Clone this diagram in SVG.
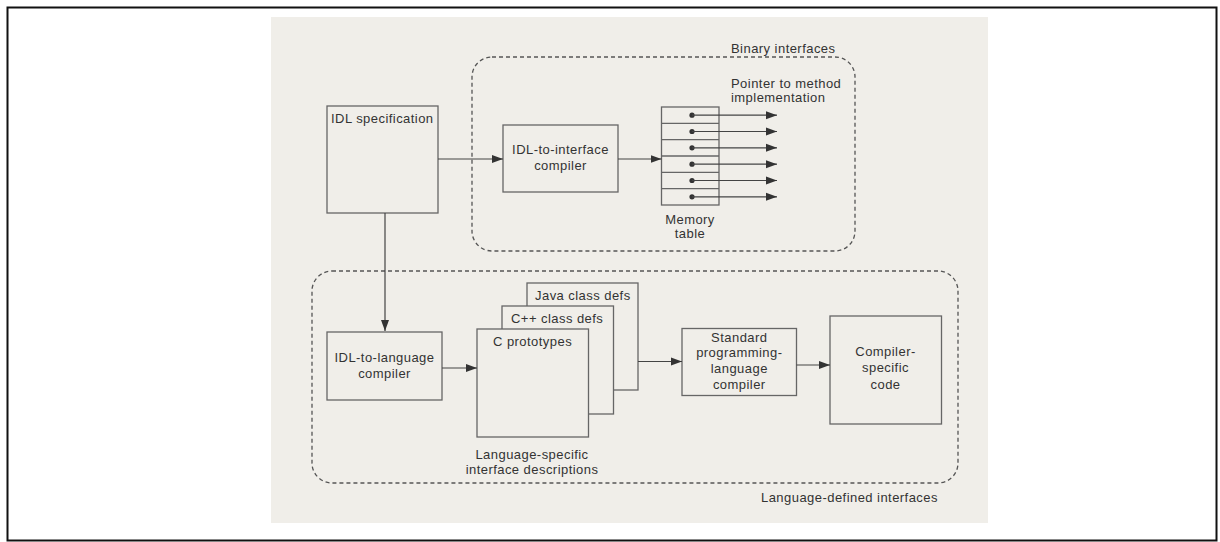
<svg xmlns="http://www.w3.org/2000/svg" width="1220" height="542" viewBox="0 0 1220 542">
  <style>
    text { font-family: "Liberation Sans", Arial, sans-serif; font-size: 13px; letter-spacing: 0.45px; fill: #333; }
    .mid { text-anchor: middle; }
    .box { fill: none; stroke: #666; stroke-width: 1.3; }
    .page { fill: #f0eee9; }
    .group { fill: none; stroke: #555; stroke-width: 1.3; stroke-dasharray: 4 3; }
    .wire { fill: none; stroke: #444; stroke-width: 1.2; }
    .dot { fill: #333; }
  </style>
  <defs>
    <marker id="arrow" markerUnits="userSpaceOnUse" markerWidth="12" markerHeight="10" refX="11" refY="5" orient="auto">
      <path d="M0,1 L11,5 L0,9 Z" fill="#333"/>
    </marker>
  </defs>

  <!-- frame and page -->
  <rect x="7.5" y="7.5" width="1209" height="533" fill="#fff" stroke="#111" stroke-width="2"/>
  <rect class="page" x="271" y="17" width="717" height="506"/>

  <!-- grouping regions -->
  <g id="binary-interfaces">
    <rect class="group" x="472" y="57" width="383" height="194" rx="20" ry="20"/>
    <text x="731" y="53">Binary interfaces</text>
  </g>
  <g id="language-defined-interfaces">
    <rect class="group" x="312" y="271" width="646" height="212" rx="20" ry="20"/>
    <text x="761" y="502">Language-defined interfaces</text>
  </g>

  <!-- nodes -->
  <g id="idl-specification">
    <rect class="box" x="327" y="106" width="111" height="107"/>
    <text x="331" y="123">IDL specification</text>
  </g>

  <g id="idl-to-interface-compiler">
    <rect class="box" x="503" y="125" width="115" height="67"/>
    <text class="mid" x="560.5" y="154">IDL-to-interface</text>
    <text class="mid" x="560.5" y="170">compiler</text>
  </g>

  <g id="memory-table">
    <rect class="box" x="661.5" y="107" width="57.5" height="98"/>
    <line class="box" x1="661.5" y1="123.3" x2="719" y2="123.3"/>
    <line class="box" x1="661.5" y1="139.7" x2="719" y2="139.7"/>
    <line class="box" x1="661.5" y1="156" x2="719" y2="156"/>
    <line class="box" x1="661.5" y1="172.3" x2="719" y2="172.3"/>
    <line class="box" x1="661.5" y1="188.7" x2="719" y2="188.7"/>
    <circle class="dot" cx="692" cy="115.2" r="2.6"/>
    <circle class="dot" cx="692" cy="131.5" r="2.6"/>
    <circle class="dot" cx="692" cy="147.8" r="2.6"/>
    <circle class="dot" cx="692" cy="164.2" r="2.6"/>
    <circle class="dot" cx="692" cy="180.5" r="2.6"/>
    <circle class="dot" cx="692" cy="196.8" r="2.6"/>
    <text class="mid" x="690" y="224">Memory</text>
    <text class="mid" x="690" y="238">table</text>
    <text x="731" y="88">Pointer to method</text>
    <text x="731" y="102">implementation</text>
  </g>

  <g id="idl-to-language-compiler">
    <rect class="box" x="327" y="332" width="115" height="68"/>
    <text class="mid" x="384.5" y="362">IDL-to-language</text>
    <text class="mid" x="384.5" y="378">compiler</text>
  </g>

  <g id="interface-descriptions">
    <rect class="box" x="527" y="283" width="111" height="107" fill="#f0eee9"/>
    <text x="535" y="299.5">Java class defs</text>
    <rect class="box" x="502" y="306" width="111.5" height="108" style="fill:#f0eee9"/>
    <text x="511" y="323">C++ class defs</text>
    <rect class="box" x="477" y="329" width="111.5" height="108" style="fill:#f0eee9"/>
    <text x="493" y="346">C prototypes</text>
    <text class="mid" x="532" y="458.5">Language-specific</text>
    <text class="mid" x="532" y="473.5">interface descriptions</text>
  </g>

  <g id="standard-compiler">
    <rect class="box" x="682" y="328.5" width="114.5" height="67"/>
    <text class="mid" x="739.3" y="342">Standard</text>
    <text class="mid" x="739.3" y="357">programming-</text>
    <text class="mid" x="739.3" y="372.5">language</text>
    <text class="mid" x="739.3" y="388.5">compiler</text>
  </g>

  <g id="compiler-specific-code">
    <rect class="box" x="830" y="316" width="111.5" height="108"/>
    <text class="mid" x="885.5" y="355.5">Compiler-</text>
    <text class="mid" x="885.5" y="372">specific</text>
    <text class="mid" x="885.5" y="388.5">code</text>
  </g>

  <!-- connectors -->
  <g id="connectors">
    <line class="wire" x1="438" y1="159" x2="503" y2="159" marker-end="url(#arrow)"/>
    <line class="wire" x1="618" y1="159" x2="661.5" y2="159" marker-end="url(#arrow)"/>
    <line class="wire" x1="385" y1="213" x2="385" y2="331" marker-end="url(#arrow)"/>
    <line class="wire" x1="442" y1="368" x2="477" y2="368" marker-end="url(#arrow)"/>
    <line class="wire" x1="638" y1="361.5" x2="682" y2="361.5" marker-end="url(#arrow)"/>
    <line class="wire" x1="796.5" y1="365" x2="830" y2="365" marker-end="url(#arrow)"/>
    <line class="wire" x1="692" y1="115.2" x2="777" y2="115.2" marker-end="url(#arrow)"/>
    <line class="wire" x1="692" y1="131.5" x2="777" y2="131.5" marker-end="url(#arrow)"/>
    <line class="wire" x1="692" y1="147.8" x2="777" y2="147.8" marker-end="url(#arrow)"/>
    <line class="wire" x1="692" y1="164.2" x2="777" y2="164.2" marker-end="url(#arrow)"/>
    <line class="wire" x1="692" y1="180.5" x2="777" y2="180.5" marker-end="url(#arrow)"/>
    <line class="wire" x1="692" y1="196.8" x2="777" y2="196.8" marker-end="url(#arrow)"/>
  </g>
</svg>
